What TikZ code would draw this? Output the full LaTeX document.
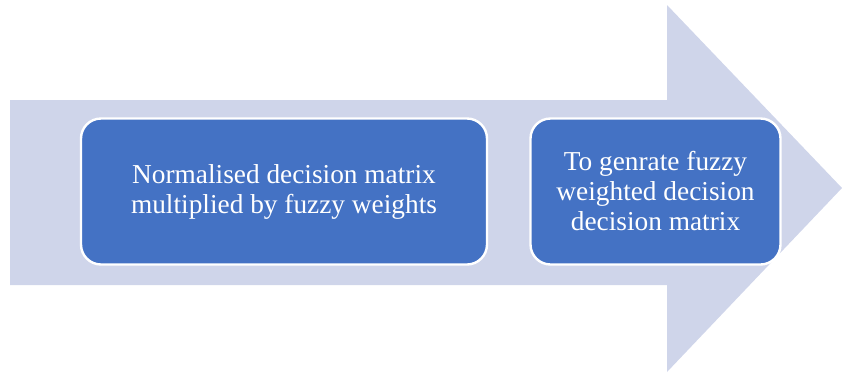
\documentclass[tikz,border=0pt]{standalone}
\usepackage{fontspec}
\setmainfont{Liberation Serif}
\definecolor{arrowfill}{HTML}{CFD5EA}
\definecolor{boxfill}{HTML}{4472C4}
\tikzset{
  stepbox/.style={draw=white, line width=1.8pt, fill=boxfill, rounded corners=15pt,
    text=white, align=center, inner sep=0pt,
    font=\fontsize{20.5}{22.5}\selectfont},
}
\begin{document}
\begin{tikzpicture}[x=0.75pt, y=-0.75pt]
\useasboundingbox (0,0) rectangle (842,376);
\fill [arrowfill] (10,100) -- (667,100) -- (667,5) -- (842,188) -- (667,372) -- (667,285) -- (10,285) -- cycle;

\node (norm) [stepbox, minimum width=406*0.75pt, minimum height=146*0.75pt] at (284,191.5) {Normalised decision matrix\\multiplied by fuzzy weights};
\node (gen) [stepbox, minimum width=250*0.75pt, minimum height=146*0.75pt] at (655.5,191.5) {To genrate fuzzy\\weighted decision\\decision matrix};
\end{tikzpicture}
\end{document}
